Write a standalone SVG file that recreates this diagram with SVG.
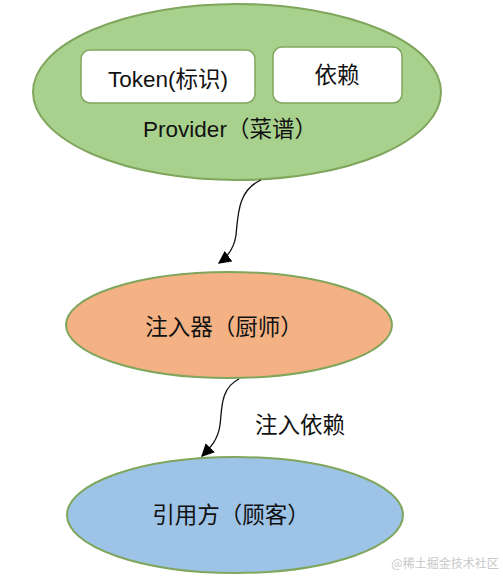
<svg xmlns="http://www.w3.org/2000/svg" width="503" height="582" viewBox="0 0 503 582">
<style>
.e{stroke:#7fa65c;stroke-width:2}
.box{fill:#ffffff;stroke:#7fa65c;stroke-width:1.5}
.t{font-family:"Liberation Sans","Noto Sans CJK SC",sans-serif;font-size:22.5px;fill:#111;text-anchor:middle;dominant-baseline:central}
.c{fill:none;stroke:#111;stroke-width:1.3}
</style>
<defs>
<marker id="ah" viewBox="0 0 10 10" refX="9" refY="5" markerWidth="13" markerHeight="13" markerUnits="userSpaceOnUse" orient="auto">
<path d="M0,0 L10,5 L0,10 Z" fill="#000"/>
</marker>
</defs>
<rect width="503" height="582" fill="#fff"/>
<g id="provider">
<ellipse class="e" cx="237" cy="92" rx="204" ry="88" fill="#a9d18e"/>
<g id="token">
<rect class="box" x="81" y="50" width="174" height="53" rx="9"/>
<text class="t" x="168" y="79">Token(标识)</text>
</g>
<g id="dep">
<rect class="box" x="273" y="47" width="129" height="56" rx="9"/>
<text class="t" x="337" y="75">依赖</text>
</g>
<text class="t" x="230" y="129">Provider（菜谱）</text>
</g>
<g id="injector">
<ellipse class="e" cx="229" cy="325" rx="163" ry="53" fill="#f4b183"/>
<text class="t" x="224" y="327">注入器（厨师）</text>
</g>
<g id="consumer">
<ellipse class="e" cx="235" cy="515" rx="168" ry="58" fill="#9dc3e6"/>
<text class="t" x="231" y="515">引用方（顾客）</text>
</g>
<g id="connectors">
<path class="c" d="M261,180 C238,190 238,215 236,235 C234,250 226,258 219,263" marker-end="url(#ah)"/>
<path class="c" d="M239,379 C220,388 222,410 220,425 C218,440 210,448 202,456" marker-end="url(#ah)"/>
<text class="t" x="300" y="425">注入依赖</text>
</g>
<text x="445" y="562" style="font-family:'Noto Sans CJK SC',sans-serif;font-size:12px;fill:#c8c8c8;text-anchor:middle;dominant-baseline:central">@稀土掘金技术社区</text>
</svg>
